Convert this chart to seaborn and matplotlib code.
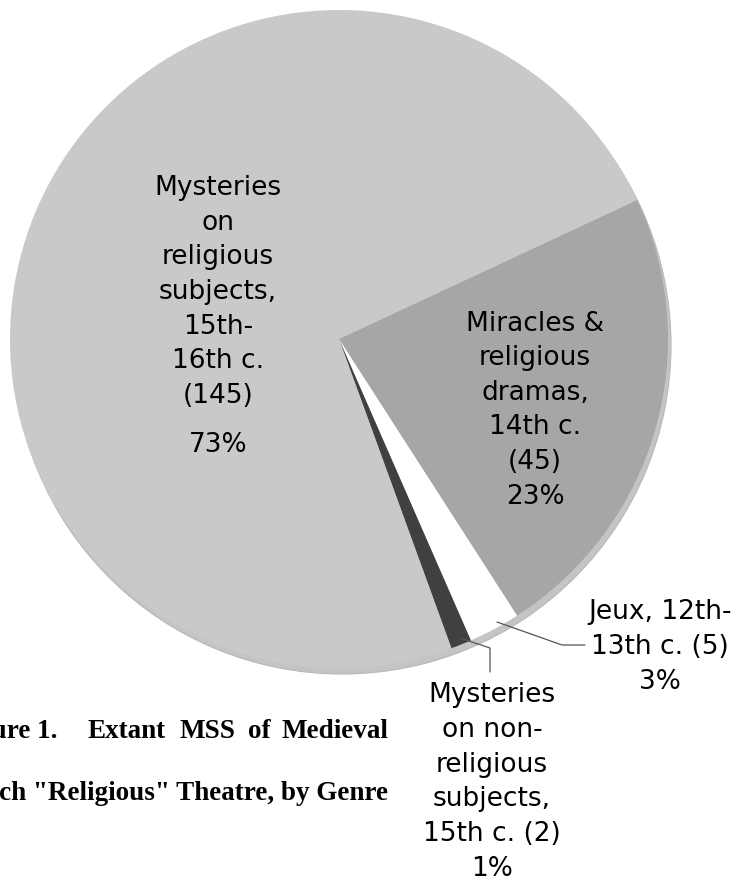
import matplotlib
matplotlib.use("Agg")
import matplotlib.pyplot as plt
import seaborn as sns
from matplotlib.patches import Circle

# -----------------------------
# DATA
# -----------------------------
genres = [
    "Miracles &\nreligious\ndramas,\n14th c.",
    "Jeux, 12th-\n13th c.",
    "Mysteries\non non-\nreligious\nsubjects,\n15th c.",
    "Mysteries\non\nreligious\nsubjects,\n15th-\n16th c.",
]
counts = [45, 5, 2, 145]
pct_labels = ["23%", "3%", "1%", "73%"]
count_sep = ["\n", " ", " ", "\n"]   # count on own line or same line
colors = ["#a6a6a6", "#ffffff", "#404040", "#c9c9c9"]

caption_1 = ["Figure 1.", "Extant", "MSS", "of", "Medieval"]
caption_2 = 'French "Religious" Theatre, by Genre'

# -----------------------------
# FIGURE (pixel-like coordinates, y up)
# -----------------------------
sns.set_theme(style="white")
plt.rcParams["font.family"] = ["DejaVu Sans"]

W, H = 737, 880
fig = plt.figure(figsize=(W / 100, H / 100), dpi=100)
ax = fig.add_axes([0, 0, 1, 1])


def py(y):
    return H - y


cx, cy, r = 339, py(339), 329

# rim behind the pie (slight 3D edge)
ax.add_patch(Circle((cx + 3, cy - 6), r, facecolor="#c4c4c4", edgecolor="#b8b8b8",
                    lw=0.8, zorder=1))

wedges, _ = ax.pie(
    counts,
    colors=colors,
    startangle=25,
    counterclock=False,
    center=(cx, cy),
    radius=r,
    frame=True,
    wedgeprops=dict(linewidth=0, zorder=2),
)
ax.set_xlim(0, W)
ax.set_ylim(0, H)
ax.set_aspect("equal")
ax.axis("off")

fs = 19
txt = dict(ha="center", va="center", fontsize=fs, color="black",
           linespacing=1.43, zorder=5)

# Mysteries on religious subjects
lab = genres[3] + count_sep[3] + f"({counts[3]})"
ax.text(218, py(292), lab, **txt)
ax.text(218, py(445), pct_labels[3], **txt)

# Miracles
lab = genres[0] + count_sep[0] + f"({counts[0]})" + "\n" + pct_labels[0]
ax.text(535, py(410), lab, **txt)

# Jeux
lab = genres[1] + count_sep[1] + f"({counts[1]})" + "\n" + pct_labels[1]
ax.text(660, py(647), lab, **txt)

# non-religious mysteries
lab = genres[2] + count_sep[2] + f"({counts[2]})" + "\n" + pct_labels[2]
ax.text(492, py(782), lab, **txt)

# leader lines
ax.plot([497, 562, 585], [py(622), py(645), py(645)], color="#555555", lw=0.9, zorder=4)
ax.plot([460, 490, 490], [py(638), py(648), py(672)], color="#555555", lw=0.9, zorder=4)

# caption (justified first line, cut at left edge as in the source)
cap = dict(fontsize=19.5, fontweight="bold", color="black", va="center",
           family="Liberation Serif", zorder=5)
xs = [58, 88, 180, 248, 388]
has = ["right", "left", "left", "left", "right"]
for word, x, h in zip(caption_1, xs, has):
    ax.text(x, py(732), word, ha=h, **cap)
ax.text(388, py(793), caption_2, ha="right", **cap)

fig.savefig("out.png", dpi=100)
